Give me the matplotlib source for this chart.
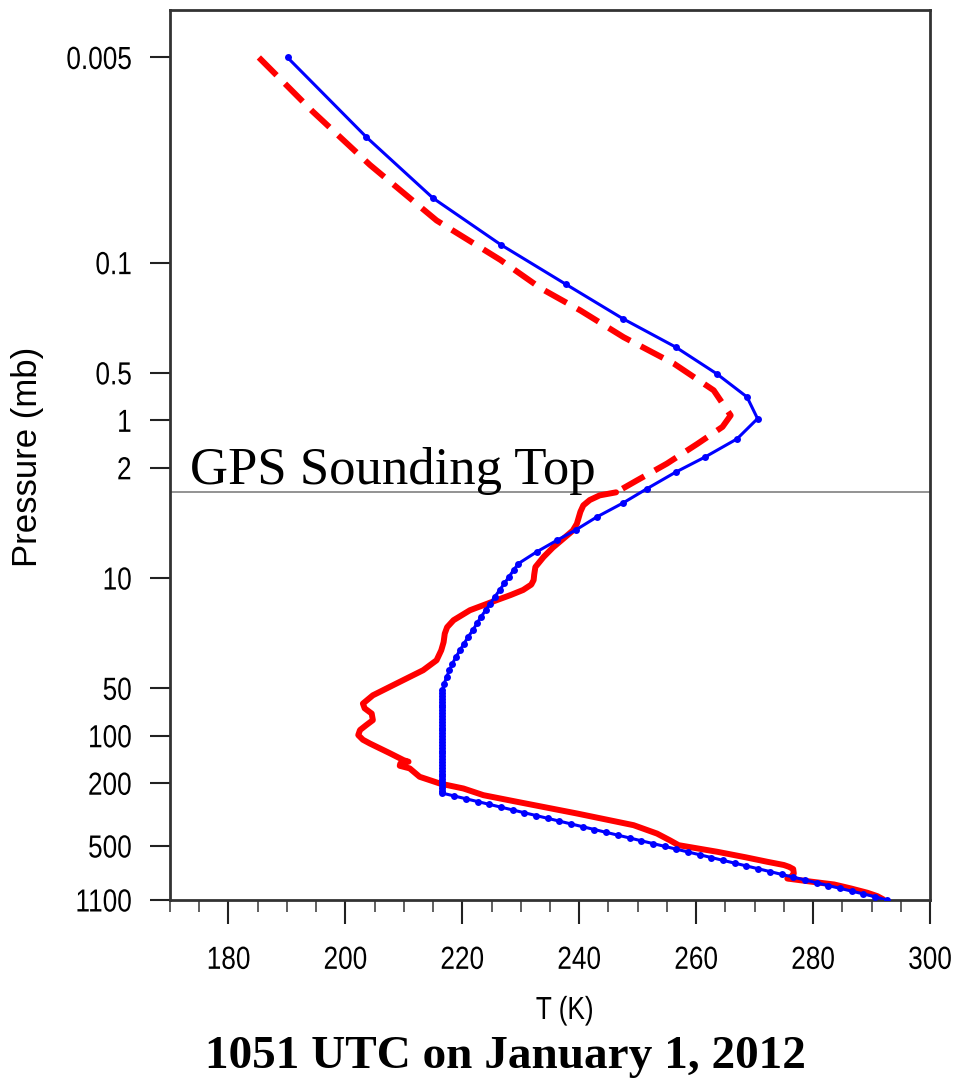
import matplotlib
matplotlib.use("Agg")
import matplotlib.pyplot as plt
from matplotlib.ticker import FixedLocator, MultipleLocator, NullLocator
from matplotlib.patheffects import AbstractPathEffect
from matplotlib.transforms import Affine2D

# ---------------------------------------------------------------------------
# Reference atmosphere profile (blue, with level markers)
# ---------------------------------------------------------------------------
ref_p = [0.005, 0.016, 0.039, 0.077, 0.137, 0.227, 0.343, 0.506, 0.711, 0.975,
         1.31, 1.71, 2.13, 2.71, 3.34, 4.10, 4.93, 5.76, 6.83, 8.09,
         8.88, 9.80, 10.8, 11.9, 13.1, 14.5, 16.0, 17.6, 19.4, 21.4,
         23.6, 26.0, 28.7, 31.7, 34.9, 38.5, 42.5, 46.8, 51.4,
         53.6, 55.9, 58.3, 60.8, 63.4, 66.1, 68.9, 71.9, 75.0, 78.2,
         81.5, 85.0, 88.7, 92.5, 96.4, 100.6, 104.9, 109.4, 114.1, 119.0,
         124.1, 129.4, 135.0, 140.8, 146.8, 153.1, 159.7, 166.5, 173.7, 181.1,
         188.9, 197.0, 205.5, 214.3, 223.5, 231.1,
         240.8, 250.8, 261.2, 272.1, 283.5, 295.3, 307.6, 320.4, 333.8, 347.7,
         362.3, 377.4, 393.1, 409.6, 426.7, 444.5, 463.1, 482.4, 502.5, 523.5,
         545.4, 568.2, 591.8, 616.6, 642.3, 669.0, 696.9, 726.0, 756.3, 787.8,
         820.7, 855.0, 890.6, 927.6, 966.3, 1006.5, 1048.6, 1100.0]
ref_T = [190.1, 203.6, 215.0, 226.6, 237.7, 247.5, 256.5, 263.5, 268.7, 270.5,
         267.0, 261.5, 256.5, 251.6, 247.5, 243.0, 239.5, 236.2, 232.7, 229.6,
         228.8, 228.0, 227.2, 226.4, 225.6, 224.8, 224.0, 223.2, 222.5, 221.8,
         221.0, 220.3, 219.6, 218.9, 218.3, 217.8, 217.3, 216.9, 216.6,
         216.6, 216.6, 216.6, 216.6, 216.6, 216.6, 216.6, 216.6, 216.6, 216.6,
         216.6, 216.6, 216.6, 216.6, 216.6, 216.6, 216.6, 216.6, 216.6, 216.6,
         216.6, 216.6, 216.6, 216.6, 216.6, 216.6, 216.6, 216.6, 216.6, 216.6,
         216.6, 216.6, 216.6, 216.6, 216.6, 216.6,
         218.6, 220.6, 222.6, 224.6, 226.6, 228.6, 230.6, 232.6, 234.6, 236.6,
         238.6, 240.6, 242.6, 244.6, 246.6, 248.6, 250.6, 252.6, 254.6, 256.6,
         258.6, 260.6, 262.6, 264.6, 266.6, 268.6, 270.6, 272.6, 274.6, 276.6,
         278.6, 280.6, 282.6, 284.6, 286.6, 288.6, 290.6, 292.6]

# ---------------------------------------------------------------------------
# Sounding profile (red): measured part below the GPS top, extension above
# ---------------------------------------------------------------------------
snd_top_p = [0.005, 0.011, 0.024, 0.054, 0.096, 0.146, 0.201, 0.297, 0.437,
             0.645, 0.93, 1.10, 1.41, 1.88, 2.40, 2.86]
snd_top_T = [185.2, 194.4, 204.2, 215.6, 226.5, 233.5, 240.2, 247.6, 256.2,
             263.0, 265.9, 264.5, 260.2, 255.0, 249.9, 246.3]

snd_p = [2.86, 2.99, 3.2, 3.46, 3.8, 4.52, 5.0, 5.62, 6.4, 7.35, 8.51, 9.5,
         10.3, 11.0, 11.9, 12.8, 13.8, 16.0, 18.5, 20.5, 22.5, 25.5, 28.7,
         33.2, 38.4, 46.7, 55.4, 62.5, 67.0, 72.3, 79.6, 86.0, 92.0, 99.0,
         106, 112, 129, 143, 146, 150, 155, 161, 182, 201, 216, 238, 262,
         311, 369, 417, 460, 494, 520, 544, 590, 630, 660, 678, 700, 747,
         780, 804, 840, 877, 930, 990, 1040, 1090]
snd_T = [246.3, 243.5, 241.8, 240.7, 240.2, 239.6, 238.9, 237.3, 235.5, 233.9,
         232.5, 232.3, 232.2, 231.8, 230.4, 228.3, 225.9, 221.3, 218.5, 217.4,
         217.0, 216.8, 216.4, 215.6, 213.3, 208.7, 204.7, 203.0, 203.3, 204.5,
         204.7, 203.5, 202.5, 202.2, 203.0, 204.2, 207.6, 210.0, 210.8, 209.4,
         209.3, 211.0, 212.7, 216.2, 220.2, 223.6, 229.3, 239.6, 249.3, 253.3,
         255.5, 257.0, 260.5, 263.6, 268.5, 272.2, 275.0, 275.9, 276.6, 276.7,
         276.3, 275.6, 279.5, 283.6, 286.5, 289.3, 291.0, 292.0]

gps_top_p = 2.86

p_ticks = [0.005, 0.1, 0.5, 1, 2, 10, 50, 100, 200, 500, 1100]
p_tick_labels = ["0.005", "0.1", "0.5", "1", "2", "10", "50", "100", "200",
                 "500", "1100"]
t_ticks = [180, 200, 220, 240, 260, 280, 300]

sans = ["Liberation Sans", "DejaVu Sans"]
serif = ["Liberation Serif", "DejaVu Serif"]


class Stretch(AbstractPathEffect):
    """Scale glyph outlines along the text direction about an anchor."""

    def __init__(self, sx, anchor="center"):
        super().__init__()
        self.sx = sx
        self.anchor = anchor

    def draw_path(self, renderer, gc, tpath, affine, rgbFace=None):
        ext = tpath.get_extents()
        xa = {"left": ext.x0, "right": ext.x1,
              "center": 0.5 * (ext.x0 + ext.x1)}[self.anchor]
        pre = Affine2D().translate(-xa, 0).scale(self.sx, 1).translate(xa, 0)
        renderer.draw_path(gc, tpath, pre + affine, rgbFace)


fig = plt.figure(figsize=(9.56, 10.79), dpi=100)
ax = fig.add_axes([170 / 956, 1 - 900 / 1079, 760 / 956, 890 / 1079])
ax.set_yscale("log")
ax.set_xlim(170, 300)
ax.set_ylim(1100, 0.0025)

ax.axhline(gps_top_p, color="#808080", lw=1.2, zorder=1)

ax.plot(snd_top_T, snd_top_p, color="red", lw=4.3, dashes=(4.2, 2.0),
        solid_capstyle="butt", zorder=2)
ax.plot(snd_T, snd_p, color="red", lw=4.3, solid_capstyle="round",
        solid_joinstyle="round", zorder=2)
ax.plot(ref_T, ref_p, color="blue", lw=2.2, marker="o", markersize=5,
        markeredgewidth=0, zorder=3)

ax.text(0.026, 0.4674, "GPS Sounding Top", transform=ax.transAxes,
        family=serif, fontsize=38, va="baseline", ha="left", zorder=4)

# axes styling
for s in ax.spines.values():
    s.set_linewidth(2.0)
    s.set_color("#333333")

ax.yaxis.set_major_locator(FixedLocator(p_ticks))
ax.yaxis.set_minor_locator(NullLocator())
ax.set_yticklabels(p_tick_labels)
ax.xaxis.set_major_locator(FixedLocator(t_ticks))
ax.xaxis.set_minor_locator(MultipleLocator(5))

ax.tick_params(axis="x", which="major", direction="out", length=17, width=1.5,
               pad=16, labelsize=23, color="#222222")
ax.tick_params(axis="x", which="minor", direction="out", length=8.6,
               width=1.2, color="#444444")
ax.tick_params(axis="y", which="major", direction="out", length=14.4,
               width=1.5, pad=13, labelsize=23, color="#222222")
ax.tick_params(top=False, right=False, which="both")

narrow_c = [Stretch(0.82, "center")]
narrow_r = [Stretch(0.82, "right")]
for lab in ax.get_xticklabels():
    lab.set_family(sans)
    lab.set_path_effects(narrow_c)
for lab in ax.get_yticklabels():
    lab.set_family(sans)
    lab.set_path_effects(narrow_r)

ax.set_xlabel("T (K)", family=sans, fontsize=23)
ax.xaxis.label.set_path_effects(narrow_c)
ax.xaxis.set_label_coords((565 - 170) / 760, (900 - 1019) / 890)
ax.xaxis.label.set_va("baseline")
ax.set_ylabel("Pressure (mb)", family=sans, fontsize=25)
ax.yaxis.set_label_coords((28 - 170) / 760, (900 - 457) / 890)
ax.yaxis.label.set_va("center")

fig.text(505.5 / 956, 1 - 1068 / 1079, "1051 UTC on January 1, 2012",
         family=serif, fontweight="bold", fontsize=34, ha="center",
         va="baseline")

fig.savefig("out.png", dpi=100)
